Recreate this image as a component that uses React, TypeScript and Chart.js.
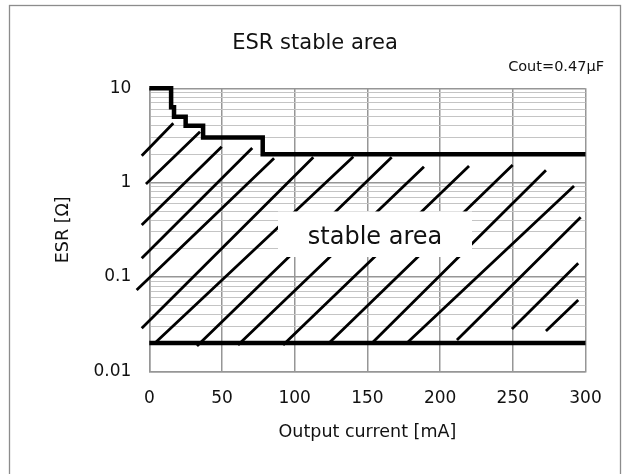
import React, { useEffect, useRef } from 'react';
import { Chart, registerables } from 'chart.js';

Chart.register(...registerables);

const FONT = '"DejaVu Sans", Verdana, sans-serif';

const TITLE = 'ESR stable area';
const SUBTITLE = 'Cout=0.47μF';
const REGION_LABEL = 'stable area';
const X_TITLE = 'Output current [mA]';
const Y_TITLE = 'ESR [Ω]';

// X axis
const xMin = 0;
const xMax = 300;
const xStep = 50;

// Y axis (log)
const yDecades = [0.01, 0.1, 1, 10];
const yDecadeLabels = ['0.01', '0.1', '1', '10'];
const yMinorMultipliers = [2, 3, 4, 5, 6, 7, 8, 9];

// Upper boundary (stepped)
const upperCurrent = [0, 15, 17, 25, 37, 78, 300];
const upperEsr = [10, 6.3, 5, 4, 3, 2, 2];

// Lower boundary
const lowerCurrent = [0, 300];
const lowerEsr = [0.02, 0.02];

// Hatch strokes (start -> end)
const hatchStartCurrent = [-5.2, -2.3, -5.2, -5.2, -8.7, -5.2, 3.9, 32.8, 61, 92, 124.3, 153.9, 177.9, 211.6, 249.4, 272.8];
const hatchStartEsr = [1.93, 0.967, 0.356, 0.158, 0.0728, 0.0286, 0.02, 0.0185, 0.019, 0.019, 0.0204, 0.0204, 0.0204, 0.0215, 0.0281, 0.0267];
const hatchEndCurrent = [16.5, 34.9, 49.8, 70.8, 85.8, 112.8, 140.3, 166.7, 188.9, 219.9, 249.9, 272.8, 292.1, 296.7, 295.0, 295.0];
const hatchEndEsr = [4.26, 3.47, 2.4, 2.33, 1.81, 1.86, 1.88, 1.86, 1.47, 1.5, 1.54, 1.35, 0.92, 0.429, 0.14, 0.057];

const yTickValues: number[] = (() => {
  const out: number[] = [];
  for (let i = 0; i < yDecades.length - 1; i++) {
    const d = yDecades[i];
    out.push(d);
    yMinorMultipliers.forEach((m) => out.push(Number((d * m).toPrecision(3))));
  }
  out.push(yDecades[yDecades.length - 1]);
  return out;
})();

const isDecade = (v: number) => {
  if (!(v > 0)) return false;
  const l = Math.log10(v);
  return Math.abs(l - Math.round(l)) < 1e-6;
};

const MAJOR_GRID = '#969696';
const MINOR_GRID = '#c4c4c4';
const TEXT = '#111111';

const decorPlugin = {
  id: 'decor',
  beforeDraw(chart: any) {
    const { ctx, width, height } = chart;
    ctx.save();
    ctx.fillStyle = '#ffffff';
    ctx.fillRect(0, 0, width, height);
    ctx.strokeStyle = '#8c8c8c';
    ctx.lineWidth = 1.3;
    ctx.strokeRect(9.5, 5.5, 611, height + 20);
    ctx.fillStyle = TEXT;
    ctx.textBaseline = 'middle';
    ctx.textAlign = 'center';
    ctx.font = `21px ${FONT}`;
    ctx.fillText(TITLE, 315, 44);
    ctx.textAlign = 'right';
    ctx.font = `14.5px ${FONT}`;
    ctx.fillText(SUBTITLE, 604, 67);
    ctx.restore();
  },
  afterDatasetsDraw(chart: any) {
    const { ctx } = chart;
    ctx.save();
    ctx.fillStyle = '#ffffff';
    ctx.fillRect(278, 211.5, 194, 45.5);
    ctx.fillStyle = TEXT;
    ctx.font = `24px ${FONT}`;
    ctx.textAlign = 'center';
    ctx.textBaseline = 'alphabetic';
    ctx.fillText(REGION_LABEL, 375, 244);
    ctx.restore();
  },
};

export default function App() {
  const ref = useRef<HTMLCanvasElement | null>(null);

  useEffect(() => {
    if (!ref.current) return;

    const upperData = upperCurrent.map((x, i) => ({ x, y: upperEsr[i] }));
    const lowerData = lowerCurrent.map((x, i) => ({ x, y: lowerEsr[i] }));
    const hatchData: any[] = [];
    hatchStartCurrent.forEach((x, i) => {
      hatchData.push({ x, y: hatchStartEsr[i] });
      hatchData.push({ x: hatchEndCurrent[i], y: hatchEndEsr[i] });
      hatchData.push({ x: hatchEndCurrent[i], y: null });
    });

    const chart = new Chart(ref.current, {
      type: 'line',
      data: {
        datasets: [
          {
            data: upperData,
            stepped: 'before',
            borderColor: '#000',
            borderWidth: 4.5,
            borderJoinStyle: 'miter',
            pointRadius: 0,
            fill: false,
            clip: false,
          } as any,
          {
            data: lowerData,
            borderColor: '#000',
            borderWidth: 4.5,
            pointRadius: 0,
            fill: false,
            clip: false,
          } as any,
          {
            data: hatchData,
            borderColor: '#000',
            borderWidth: 2.8,
            pointRadius: 0,
            spanGaps: false,
            fill: false,
            clip: false,
          } as any,
        ],
      },
      options: {
        responsive: false,
        animation: false,
        devicePixelRatio: 1,
        layout: { padding: { left: 52.5, right: 44.5, top: 88.3, bottom: 30.8 } },
        plugins: {
          legend: { display: false },
          title: { display: false },
          tooltip: { enabled: false },
        },
        elements: { line: { tension: 0 } },
        scales: {
          x: {
            type: 'linear',
            min: xMin,
            max: xMax,
            afterFit: (s: any) => {
              s.height = 71.9;
            },
            ticks: {
              stepSize: xStep,
              padding: 17.5,
              color: TEXT,
              font: { family: FONT, size: 17 },
              maxRotation: 0,
            },
            grid: { color: MAJOR_GRID, lineWidth: 1.5, drawTicks: false },
            border: { color: MAJOR_GRID, width: 1.5 },
            title: {
              display: true,
              text: X_TITLE,
              color: TEXT,
              font: { family: FONT, size: 17.5 },
              padding: 0,
            },
          },
          y: {
            type: 'logarithmic',
            min: yDecades[0],
            max: yDecades[yDecades.length - 1],
            afterFit: (s: any) => {
              s.width = 96.8;
            },
            afterBuildTicks: (s: any) => {
              s.ticks = yTickValues.map((v) => ({ value: v, major: isDecade(v) }));
            },
            ticks: {
              autoSkip: false,
              padding: 18,
              color: TEXT,
              font: { family: FONT, size: 17 },
              callback: (value: any) => {
                const v = Number(value);
                const i = yDecades.findIndex((d) => Math.abs(d - v) < d * 1e-6);
                return i >= 0 ? yDecadeLabels[i] : '';
              },
            },
            grid: {
              drawTicks: false,
              color: (c: any) => (c.tick && isDecade(c.tick.value) ? MAJOR_GRID : MINOR_GRID),
              lineWidth: (c: any) => (c.tick && isDecade(c.tick.value) ? 1.5 : 1),
            },
            border: { color: MAJOR_GRID, width: 1.5 },
            title: {
              display: true,
              text: Y_TITLE,
              color: TEXT,
              font: { family: FONT, size: 17.5 },
              padding: 0,
            },
          },
        },
      } as any,
      plugins: [decorPlugin as any],
    });

    return () => chart.destroy();
  }, []);

  return (
    <div style={{ position: 'fixed', left: 0, top: 0, width: 630, height: 474, background: '#fff' }}>
      <canvas ref={ref} width={630} height={474} style={{ display: 'block' }} />
    </div>
  );
}
